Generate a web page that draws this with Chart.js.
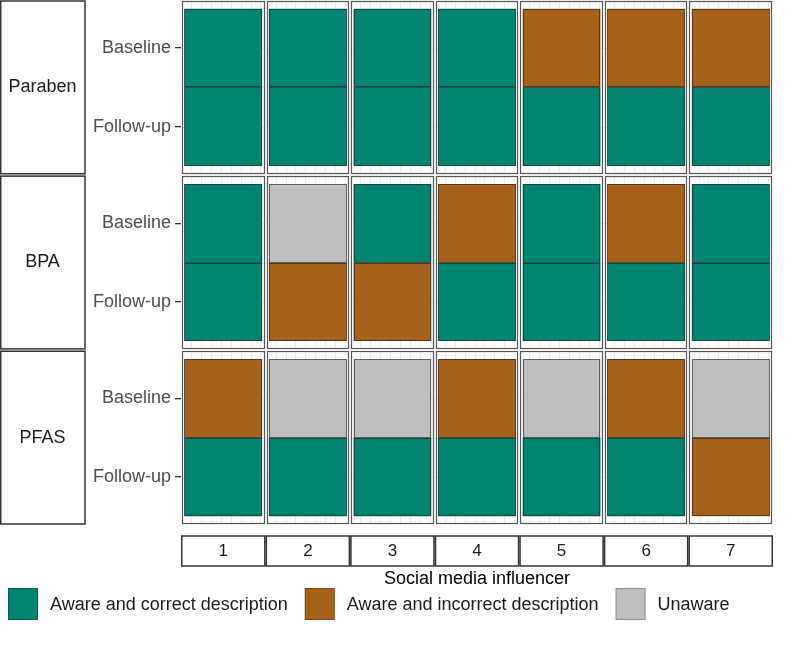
<!DOCTYPE html>
<html>
<head>
<meta charset="utf-8">
<script src="https://cdn.jsdelivr.net/npm/chart.js@4.4.1/dist/chart.umd.min.js"></script>
<style>
  html, body { margin: 0; padding: 0; background: #fff; }
  #wrap { width: 800px; height: 667px; }
</style>
</head>
<body>
<div id="wrap"><canvas id="chart-area"></canvas></div>
<script>
var compounds = ['Paraben', 'BPA', 'PFAS'];
var timepoints = ['Baseline', 'Follow-up'];
var influencers = ['1', '2', '3', '4', '5', '6', '7'];
var statusLabels = ['Aware and correct description', 'Aware and incorrect description', 'Unaware'];
var statusColors = ['#018571', '#A6611A', '#BEBEBE'];

// 0 = aware/correct, 1 = aware/incorrect, 2 = unaware  (one value per influencer)
var parabenBaseline = [0, 0, 0, 0, 1, 1, 1];
var parabenFollowup = [0, 0, 0, 0, 0, 0, 0];
var bpaBaseline     = [0, 2, 0, 1, 0, 1, 0];
var bpaFollowup     = [0, 1, 1, 0, 0, 0, 0];
var pfasBaseline    = [1, 2, 2, 1, 2, 1, 2];
var pfasFollowup    = [0, 0, 0, 0, 0, 0, 1];

var statusRows = [
  [parabenBaseline, parabenFollowup],
  [bpaBaseline, bpaFollowup],
  [pfasBaseline, pfasFollowup]
];

// each facet row: two tiles of height 1 plus 0.6 expansion each side
var PANEL = 2.2;
var GAP = 0.03;
var PITCH = PANEL + GAP;
var YMAX = compounds.length * PANEL + (compounds.length - 1) * GAP;
var FONT = '"Liberation Sans", Arial, sans-serif';

Chart.defaults.font.family = FONT;

var datasets = [];
compounds.forEach(function(comp, c) {
  timepoints.forEach(function(tp, t) {
    var codes = statusRows[c][t];
    var top = c * PITCH + 0.1 + t;
    datasets.push({
      label: comp + ' ' + tp,
      data: codes.map(function() { return [top, top + 1]; }),
      backgroundColor: codes.map(function(s) { return statusColors[s]; }),
      borderWidth: 0,
      barPercentage: 0.92,
      categoryPercentage: 1,
      grouped: false
    });
  });
});

function panelBox(chart, c, i) {
  var x = chart.scales.x, y = chart.scales.y;
  var w = x.getPixelForValue(1) - x.getPixelForValue(0);
  var cx = x.getPixelForValue(i);
  return {
    left: cx - w / 2 + 1,
    right: cx + w / 2 - 1,
    top: y.getPixelForValue(c * PITCH),
    bottom: y.getPixelForValue(c * PITCH + PANEL)
  };
}

var facetPlugin = {
  id: 'facets',
  beforeDatasetsDraw: function(chart) {
    var ctx = chart.ctx, y = chart.scales.y;
    ctx.save();
    ctx.strokeStyle = '#EBEBEB';
    ctx.lineWidth = 1;
    compounds.forEach(function(comp, c) {
      influencers.forEach(function(lab, i) {
        var b = panelBox(chart, c, i);
        var w = b.right - b.left;
        ctx.beginPath();
        for (var k = 0; k < 8; k++) {
          var gx = Math.round(b.left + w * (0.11 + k * 0.12)) + 0.5;
          ctx.moveTo(gx, b.top);
          ctx.lineTo(gx, b.bottom);
        }
        [0.6, 1.1, 1.6].forEach(function(v) {
          var gy = Math.round(y.getPixelForValue(c * PITCH + v)) + 0.5;
          ctx.moveTo(b.left, gy);
          ctx.lineTo(b.right, gy);
        });
        ctx.stroke();
      });
    });
    ctx.restore();
  },
  afterDatasetsDraw: function(chart) {
    var ctx = chart.ctx;
    ctx.save();
    // tile outlines
    ctx.strokeStyle = 'rgba(30,30,30,0.6)';
    ctx.lineWidth = 1;
    chart.data.datasets.forEach(function(ds, d) {
      chart.getDatasetMeta(d).data.forEach(function(bar) {
        var p = bar.getProps(['x', 'y', 'base', 'width'], true);
        var l = Math.round(p.x - p.width / 2) + 0.5;
        var r = Math.round(p.x + p.width / 2) - 0.5;
        var t = Math.round(Math.min(p.y, p.base)) + 0.5;
        var btm = Math.round(Math.max(p.y, p.base)) - 0.5;
        ctx.strokeRect(l, t, r - l, btm - t);
      });
    });
    // panel borders
    ctx.strokeStyle = '#555555';
    ctx.lineWidth = 1.2;
    compounds.forEach(function(comp, c) {
      influencers.forEach(function(lab, i) {
        var b = panelBox(chart, c, i);
        var l = Math.round(b.left) + 0.5, t = Math.round(b.top) + 0.5;
        ctx.strokeRect(l, t, Math.round(b.right) - 1 - l + 0.5, Math.round(b.bottom) - t - 0.5);
      });
    });
    ctx.restore();
  },
  afterDraw: function(chart) {
    var ctx = chart.ctx, area = chart.chartArea, x = chart.scales.x, y = chart.scales.y;
    ctx.save();
    // left strips
    var stripRight = area.left - 96;
    ctx.strokeStyle = '#333333';
    ctx.lineWidth = 1.5;
    ctx.font = '18px ' + FONT;
    ctx.textAlign = 'center';
    ctx.textBaseline = 'middle';
    compounds.forEach(function(comp, c) {
      var t = y.getPixelForValue(c * PITCH);
      var b = y.getPixelForValue(c * PITCH + PANEL);
      ctx.strokeRect(0.75, t, stripRight - 0.75, b - t);
      ctx.fillStyle = '#1a1a1a';
      ctx.fillText(comp, stripRight / 2, (t + b) / 2);
    });
    // bottom strips
    var w = x.getPixelForValue(1) - x.getPixelForValue(0);
    var st = area.bottom + 12;
    influencers.forEach(function(lab, i) {
      var cx = x.getPixelForValue(i);
      ctx.strokeRect(cx - w / 2 + 0.75, st, w - 1.5, 30);
    });
    // legend
    var lx = 8, ly = area.bottom + 64;
    ctx.font = '18px ' + FONT;
    ctx.textAlign = 'left';
    ctx.lineWidth = 1;
    statusLabels.forEach(function(lbl, i) {
      ctx.fillStyle = statusColors[i];
      ctx.fillRect(lx, ly, 30, 32);
      ctx.strokeStyle = 'rgba(0,0,0,0.25)';
      ctx.strokeRect(lx + 0.5, ly + 0.5, 29, 31);
      ctx.fillStyle = '#1a1a1a';
      ctx.fillText(lbl, lx + 42, ly + 17);
      lx += 42 + ctx.measureText(lbl).width + 17;
    });
    ctx.restore();
  }
};

var config = {
  type: 'bar',
  data: {
    labels: influencers,
    datasets: datasets
  },
  options: {
    responsive: true,
    maintainAspectRatio: false,
    animation: false,
    layout: {
      padding: { top: 1, right: 27, bottom: 77, left: 0 }
    },
    plugins: {
      legend: { display: false },
      tooltip: { enabled: false }
    },
    scales: {
      x: {
        type: 'category',
        offset: true,
        grid: { display: false, drawTicks: false },
        border: { display: false },
        ticks: { color: '#1a1a1a', font: { size: 17 }, padding: 17 },
        title: {
          display: true,
          text: 'Social media influencer',
          color: '#000000',
          font: { size: 18 },
          padding: { top: -10, bottom: 0 }
        }
      },
      y: {
        type: 'linear',
        reverse: true,
        min: 0,
        max: YMAX,
        border: { display: false },
        grid: { drawOnChartArea: false, drawTicks: true, tickLength: 6, color: '#333333', lineWidth: 1.3 },
        ticks: {
          color: '#4d4d4d',
          font: { size: 18 },
          padding: 4,
          callback: function(value, index) { return timepoints[index % 2]; }
        },
        afterBuildTicks: function(scale) {
          var ticks = [];
          compounds.forEach(function(comp, c) {
            ticks.push({ value: c * PITCH + 0.6 });
            ticks.push({ value: c * PITCH + 1.6 });
          });
          scale.ticks = ticks;
        },
        afterFit: function(scale) {
          scale.width = 181;
          scale.paddingTop = 0;
          scale.paddingBottom = 0;
        }
      }
    }
  },
  plugins: [facetPlugin]
};

window.onload = function() {
  var ctx = document.getElementById('chart-area').getContext('2d');
  window.myTiles = new Chart(ctx, config);
};
</script>
</body>
</html>
